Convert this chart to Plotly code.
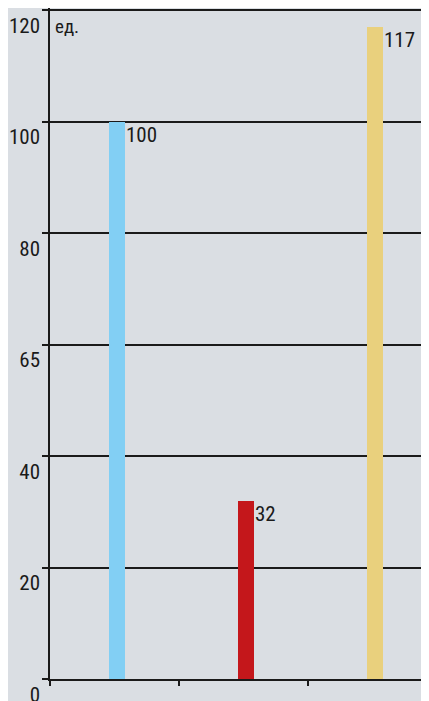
import plotly.graph_objects as go

categories = ["1", "2", "3"]
values = [100, 32, 117]
bar_colors = ["#82cff4", "#c4171b", "#e9d07d"]
tick_vals = [0, 20, 40, 60, 80, 100, 120]
tick_text = ["0", "20", "40", "65", "80", "100", "120"]
unit_label = "ед."

FONT = "Liberation Sans Narrow, Roboto Condensed, DejaVu Sans Condensed, Arial Narrow, sans-serif"
BG = "#dadee3"

fig = go.Figure()
fig.add_trace(go.Bar(
    x=categories, y=values,
    marker=dict(color=bar_colors, line=dict(width=0)),
    width=0.124, offset=-0.046,
    hoverinfo="skip",
))

for i, v in enumerate(values):
    fig.add_annotation(
        x=i, y=v, xref="x", yref="y", text=str(v),
        showarrow=False, xanchor="left", yanchor="top",
        xshift=9, yshift=1,
        font=dict(family=FONT, size=21, color="#1a1a1a"),
    )

fig.add_annotation(
    x=0, y=tick_vals[-1], xref="paper", yref="y", text=unit_label,
    showarrow=False, xanchor="left", yanchor="top",
    xshift=3, yshift=-3,
    font=dict(family=FONT, size=19, color="#1a1a1a"),
)

fig.update_layout(
    width=421, height=693,
    margin=dict(l=42, r=0, t=0, b=22, autoexpand=False),
    paper_bgcolor=BG, plot_bgcolor=BG,
    showlegend=False,
    font=dict(family=FONT, size=21, color="#1a1a1a"),
    bargap=0,
)

fig.update_yaxes(
    range=[0, 120.36], tickvals=tick_vals, ticktext=tick_text,
    showgrid=True, gridcolor="#1a1a1a", gridwidth=1.5,
    showline=True, linecolor="#1a1a1a", linewidth=1.5,
    ticks="outside", ticklen=6, tickcolor="#1a1a1a", tickwidth=1.5,
    ticklabelposition="outside bottom", ticklabeloverflow="allow",
    ticklabelstandoff=4,
    tickfont=dict(family=FONT, size=21, color="#1a1a1a"),
    zeroline=False, automargin=False,
)
fig.update_xaxes(
    type="category", range=[-0.5, 2.438],
    tickson="boundaries", ticks="outside", ticklen=5,
    tickcolor="#1a1a1a", tickwidth=1.5,
    showticklabels=False, showgrid=False,
    showline=True, linecolor="#1a1a1a", linewidth=1.5,
    automargin=False,
)

fig.write_html("out.html")
